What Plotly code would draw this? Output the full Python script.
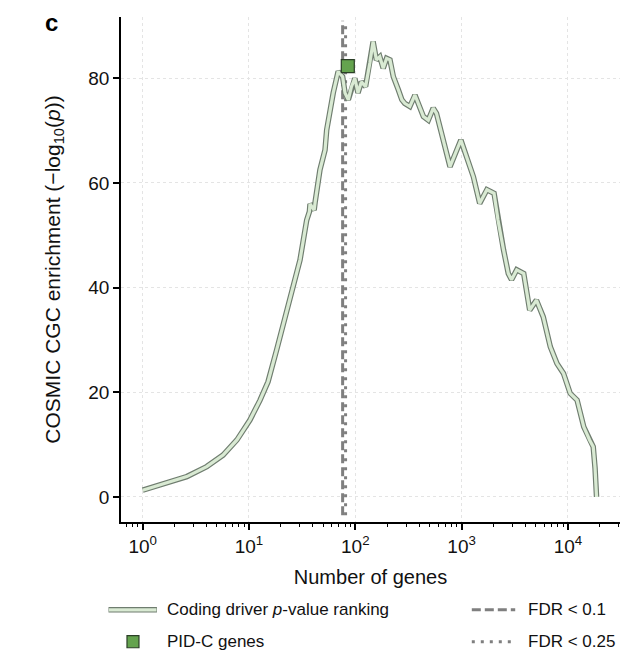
import plotly.graph_objects as go

# ---- data ----
genes = [1, 1.8, 2.6, 4.0, 5.7, 7.7, 10.2, 12.7, 15.1, 18.2, 24.3, 30.2, 34.9, 37, 37.5, 40, 41, 42,
         46.5, 51.9, 53.8, 62, 69, 76, 80, 86, 92, 99, 106, 114, 125, 137, 147, 158, 170, 183,
         197, 212, 228, 254, 274, 292, 326, 364, 390, 437, 486, 541, 580, 625, 778, 984, 1090,
         1290, 1480, 1730, 2020, 2200, 2480, 2750, 2950, 3300, 3840, 4370, 5060, 5860, 6830,
         7890, 9090, 10500, 12200, 14100, 16000, 17300, 18000, 18600]
enrichment = [1.3, 2.9, 3.9, 5.8, 8.0, 10.9, 14.7, 18.5, 22.0, 28.1, 37.6, 45.3, 52.9, 54.5, 56.0, 55.3,
              54.8, 56.5, 62.5, 66.3, 70.1, 77.2, 81.3, 80.3, 77.2, 75.9, 78.4, 80.0, 77.2, 79.3,
              78.4, 82.9, 87.0, 83.5, 84.1, 81.9, 83.8, 83.5, 80.3, 77.8, 75.9, 75.2, 74.6, 76.8,
              75.2, 72.7, 72.0, 74.3, 73.3, 70.7, 63.1, 68.2, 65.7, 61.2, 56.1, 58.7, 58.0, 52.9,
              47.2, 42.7, 41.5, 43.4, 42.7, 35.7, 37.6, 34.4, 28.7, 25.5, 23.6, 19.8, 18.5, 13.4,
              10.9, 9.6, 5.5, 0.0]
pidc_genes = [85]
pidc_enrichment = [82.3]
fdr_01_genes = 76
fdr_025_genes = 81
y_span = [-3.5, 91.0]

xtick_vals = [1, 10, 100, 1000, 10000]
xtick_text = ["10<sup>0</sup>", "10<sup>1</sup>", "10<sup>2</sup>", "10<sup>3</sup>", "10<sup>4</sup>"]
ytick_vals = [0, 20, 40, 60, 80]
minor_vals = [m * 10 ** e for e in range(-1, 5) for m in range(2, 10)]

FONT = "Liberation Sans, Arial, Helvetica, sans-serif"
EDGE = "#6f7d6f"
FILL = "#d9ead3"
GRAY = "#7f7f7f"
SQ = "#64a34e"

fig = go.Figure()

# vertical FDR lines
fig.add_trace(go.Scatter(x=[fdr_01_genes, fdr_01_genes], y=y_span, mode="lines",
                         line=dict(color=GRAY, width=3, dash="9px,4px"), showlegend=False, hoverinfo="skip"))
fig.add_trace(go.Scatter(x=[fdr_025_genes, fdr_025_genes], y=y_span, mode="lines",
                         line=dict(color=GRAY, width=3, dash="3px,6px"), showlegend=False, hoverinfo="skip"))

# double line curve
fig.add_trace(go.Scatter(x=genes, y=enrichment, mode="lines",
                         line=dict(color=EDGE, width=5.5), showlegend=False))
fig.add_trace(go.Scatter(x=genes, y=enrichment, mode="lines",
                         line=dict(color=FILL, width=3.2), showlegend=False))

# PID-C point
fig.add_trace(go.Scatter(x=pidc_genes, y=pidc_enrichment, mode="markers",
                         marker=dict(symbol="square", size=13, color=SQ,
                                     line=dict(color="#2b3f27", width=1.2)),
                         showlegend=False))

fig.update_xaxes(type="log", range=[-0.204, 4.49],
                 tickmode="array", tickvals=xtick_vals, ticktext=xtick_text,
                 ticks="outside", ticklen=6, tickwidth=1.5, tickcolor="black",
                 showline=True, linecolor="black", linewidth=1.5,
                 showgrid=True, gridcolor="#e4e4e4", griddash="dot", gridwidth=1,
                 zeroline=False,
                 minor=dict(tickmode="array", tickvals=minor_vals, ticks="outside",
                            ticklen=3.5, tickwidth=1.2, tickcolor="black", showgrid=False),
                 tickfont=dict(size=19, color="#111", family=FONT),
                 title=dict(text="Number of genes", font=dict(size=20, color="#111", family=FONT),
                            standoff=14))
fig.update_yaxes(range=[-4.78, 91.7], tickmode="array", tickvals=ytick_vals,
                 ticks="outside", ticklen=6, tickwidth=1.5, tickcolor="black",
                 showline=True, linecolor="black", linewidth=1.5,
                 showgrid=True, gridcolor="#e4e4e4", griddash="dot", gridwidth=1,
                 zeroline=False,
                 tickfont=dict(size=19, color="#111", family=FONT),
                 title=dict(text="COSMIC CGC enrichment (\u2212log<sub>10</sub>(<i>p</i>))",
                            font=dict(size=21, color="#111", family=FONT), standoff=22))

# manual legend
shapes = []
ann = []
r1, r2 = -0.174, -0.237
shapes.append(dict(type="line", xref="paper", yref="paper", x0=-0.025, x1=0.072, y0=r1, y1=r1,
                   line=dict(color=EDGE, width=5.5)))
shapes.append(dict(type="line", xref="paper", yref="paper", x0=-0.024, x1=0.071, y0=r1, y1=r1,
                   line=dict(color=FILL, width=3.2)))
shapes.append(dict(type="line", xref="paper", yref="paper", x0=0.703, x1=0.79, y0=r1, y1=r1,
                   line=dict(color=GRAY, width=3, dash="9px,4px")))
shapes.append(dict(type="line", xref="paper", yref="paper", x0=0.703, x1=0.79, y0=r2, y1=r2,
                   line=dict(color=GRAY, width=3, dash="3px,6px")))
shapes.append(dict(type="rect", xref="paper", yref="paper", x0=0.012, x1=0.036,
                   y0=r2 - 0.012, y1=r2 + 0.012, fillcolor=SQ, line=dict(color="#2b3f27", width=1.2)))
for txt, x, y in [("Coding driver <i>p</i>-value ranking", 0.089, r1), ("PID-C genes", 0.089, r2),
                  ("FDR < 0.1", 0.812, r1), ("FDR < 0.25", 0.812, r2)]:
    ann.append(dict(text=txt, x=x, y=y, xref="paper", yref="paper", xanchor="left", yanchor="middle",
                    showarrow=False, font=dict(size=17, color="#111", family=FONT)))
ann.append(dict(text="<b>c</b>", x=-0.14, y=0.99, xref="paper", yref="paper", xanchor="center",
                yanchor="middle", showarrow=False, font=dict(size=24, color="black", family=FONT)))

# page has an 8px body margin: figure is 632x652 so plot area lands where the reference has it
fig.update_layout(width=632, height=652, margin=dict(l=113, r=20, t=9, b=138),
                  paper_bgcolor="white", plot_bgcolor="white",
                  shapes=shapes, annotations=ann, showlegend=False,
                  font=dict(family=FONT))

fig.write_html("out.html")
